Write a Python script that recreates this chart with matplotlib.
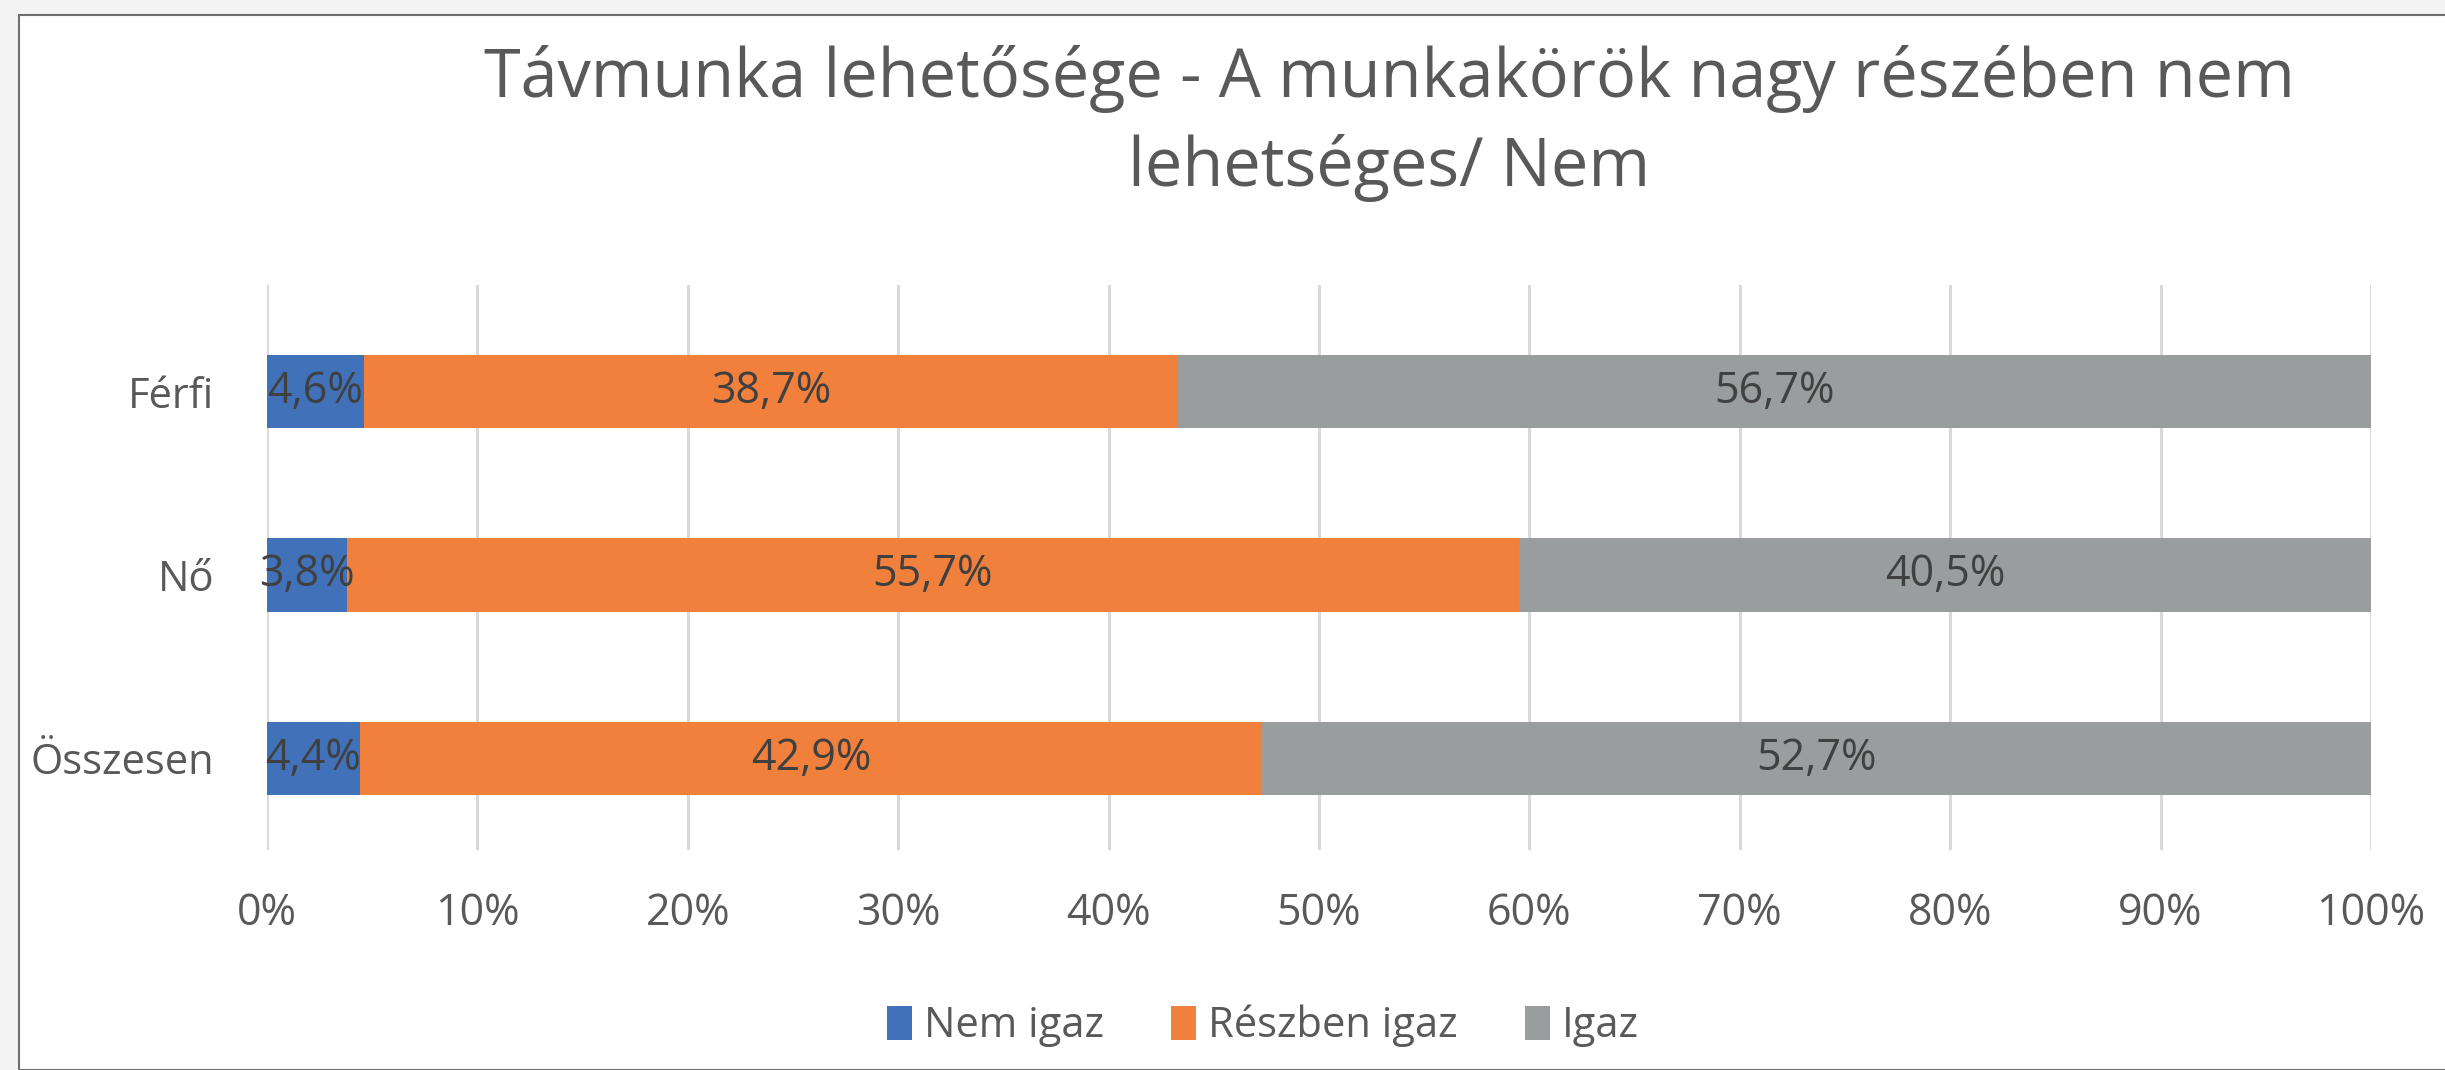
import matplotlib.pyplot as plt
from matplotlib.patches import Rectangle
import numpy as np

plt.rcParams["font.family"] = ["Open Sans", "DejaVu Sans"]

categories = ["Férfi", "Nő", "Összesen"]
series_names = ["Nem igaz", "Részben igaz", "Igaz"]
nem_igaz = [4.6, 3.8, 4.4]
reszben_igaz = [38.7, 55.7, 42.9]
igaz = [56.7, 40.5, 52.7]
x_ticks = [0, 10, 20, 30, 40, 50, 60, 70, 80, 90, 100]

colors = ["#4171B8", "#F0803B", "#9A9D9D"]
text_color = "#404040"

W, H = 2445, 1070
fig = plt.figure(figsize=(W / 100, H / 100), dpi=100)
fig.patch.set_facecolor("#F3F3F3")

# white chart area with a thin frame, kept behind the axes
frame = Rectangle((19 / W, 0), 1, 1 - 15 / H, transform=fig.transFigure,
                  facecolor="white", edgecolor="#6E6E6E", linewidth=1.5, zorder=-5)
fig.patches.append(frame)

ax = fig.add_axes([267 / W, 1 - 850 / H, (2371 - 267) / W, (850 - 285) / H])
ax.set_facecolor("none")

y = np.arange(len(categories))
left = np.zeros(len(categories))
for name, vals, col in zip(series_names, [nem_igaz, reszben_igaz, igaz], colors):
    vals = np.array(vals)
    bars = ax.barh(y, vals, left=left, height=0.4, color=col, label=name, zorder=3)
    for b, v in zip(bars, vals):
        ax.text(b.get_x() + b.get_width() / 2, b.get_y() + b.get_height() / 2,
                f"{v:.1f}%".replace(".", ","), ha="center", va="center",
                fontsize=31, color=text_color, zorder=4)
    left += vals

ax.set_xlim(0, 100)
ax.set_ylim(2.5, -0.583)
ax.set_xticks(x_ticks)
ax.set_xticklabels([f"{t}%" for t in x_ticks])
ax.set_yticks(y)
ax.set_yticklabels(categories)
ax.tick_params(axis="x", length=0, pad=30, labelsize=31, labelcolor="#595959")
ax.tick_params(axis="y", length=0, pad=38, labelsize=30, labelcolor="#595959")
ax.grid(axis="x", color="#D9D9D9", linewidth=2.2, zorder=0)
for s in ax.spines.values():
    s.set_visible(False)

fig.text(1389 / W, 1 - 79 / H, "Távmunka lehetősége - A munkakörök nagy részében nem",
         ha="center", va="center", fontsize=48, color="#595959")
fig.text(1389 / W, 1 - 168 / H, "lehetséges/ Nem",
         ha="center", va="center", fontsize=48, color="#595959")

fig.legend(loc="center", bbox_to_anchor=(1263 / W, 1 - 1026 / H), ncol=3,
           frameon=False, fontsize=30, labelcolor="#595959",
           handlelength=0.6, handleheight=0.9, handletextpad=0.3, columnspacing=1.6)

fig.savefig("out.png", dpi=100, facecolor=fig.get_facecolor())
